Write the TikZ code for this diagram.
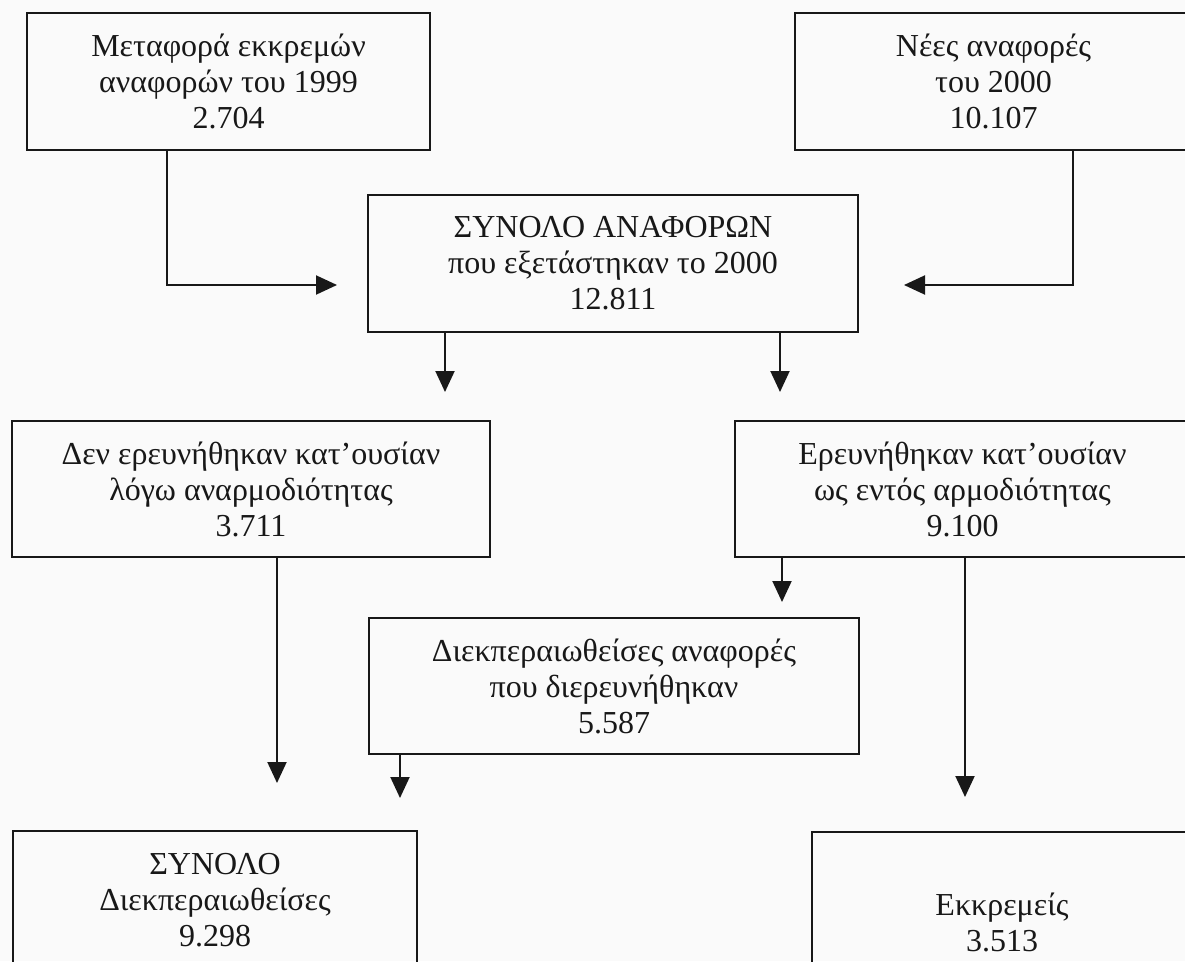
\documentclass[tikz,border=0pt]{standalone}
\usepackage{fontspec}
\setmainfont{Liberation Serif}
\usetikzlibrary{arrows.meta}

\definecolor{paper}{RGB}{250,250,250}
\definecolor{ink}{RGB}{24,24,24}
\newcommand\flowfont{\fontsize{32}{36}\selectfont}

\tikzset{
	box/.style={draw=ink, line width=2pt, text=ink, align=center, inner sep=0pt, outer sep=0pt, font=\flowfont},
	arr/.style={draw=ink, line width=2pt, -{Triangle[length=21pt,width=19pt]}}
}

\begin{document}
\begin{tikzpicture}[x=1pt,y=-1pt]

		\useasboundingbox (0,0) rectangle (1185,961);
		\fill[color=paper] (0,0) rectangle (1185,961);
		\clip (0,0) rectangle (1185,961);

		\node[box, minimum width=403pt, minimum height=137pt] (carry) at (228.5,81.5) {Μεταφορά εκκρεμών\\αναφορών του 1999\\2.704};
		\node[box, minimum width=397pt, minimum height=137pt] (new) at (993.5,81.5) {Νέες αναφορές\\του 2000\\10.107};
		\node[box, minimum width=490pt, minimum height=137pt] (total) at (613,263.5) {ΣΥΝΟΛΟ ΑΝΑΦΟΡΩΝ\\που εξετάστηκαν το 2000\\12.811};

		\node[box, minimum width=478pt, minimum height=136pt] (notinv) at (251,489) {Δεν ερευνήθηκαν κατ’ουσίαν\\λόγω αναρμοδιότητας\\3.711};
		\node[box, minimum width=455pt, minimum height=136pt] (inv) at (962.5,489) {Ερευνήθηκαν κατ’ουσίαν\\ως εντός αρμοδιότητας\\9.100};
		\node[box, minimum width=490pt, minimum height=136pt] (closedinv) at (614,686) {Διεκπεραιωθείσες αναφορές\\που διερευνήθηκαν\\5.587};

		\node[box, minimum width=404pt, minimum height=139pt] (closedall) at (215,900.5) {ΣΥΝΟΛΟ\\Διεκπεραιωθείσες\\9.298};
		\node[box, minimum width=380pt, minimum height=139pt] (pending) at (1002,901) {\mbox{}\\[30pt]Εκκρεμείς\\3.513};

		\coordinate (k1) at (167,285);
		\coordinate (a1) at (337,285);
		\coordinate (k2) at (1073,285);
		\coordinate (a2) at (904,285);
		\coordinate (a3) at (445,392);
		\coordinate (a4) at (780,392);
		\coordinate (a5) at (277,783);
		\coordinate (a6) at (782,602);
		\coordinate (a7) at (965,797);
		\coordinate (a8) at (400,798);

		\draw[arr] (carry.south -| k1) -- (k1) -- (a1);
		\draw[arr] (new.south -| k2) -- (k2) -- (a2);
		\draw[arr] (total.south -| a3) -- (a3);
		\draw[arr] (total.south -| a4) -- (a4);
		\draw[arr] (notinv.south -| a5) -- (a5);
		\draw[arr] (inv.south -| a6) -- (a6);
		\draw[arr] (inv.south -| a7) -- (a7);
		\draw[arr] (closedinv.south -| a8) -- (a8);

	\end{tikzpicture}
\end{document}
